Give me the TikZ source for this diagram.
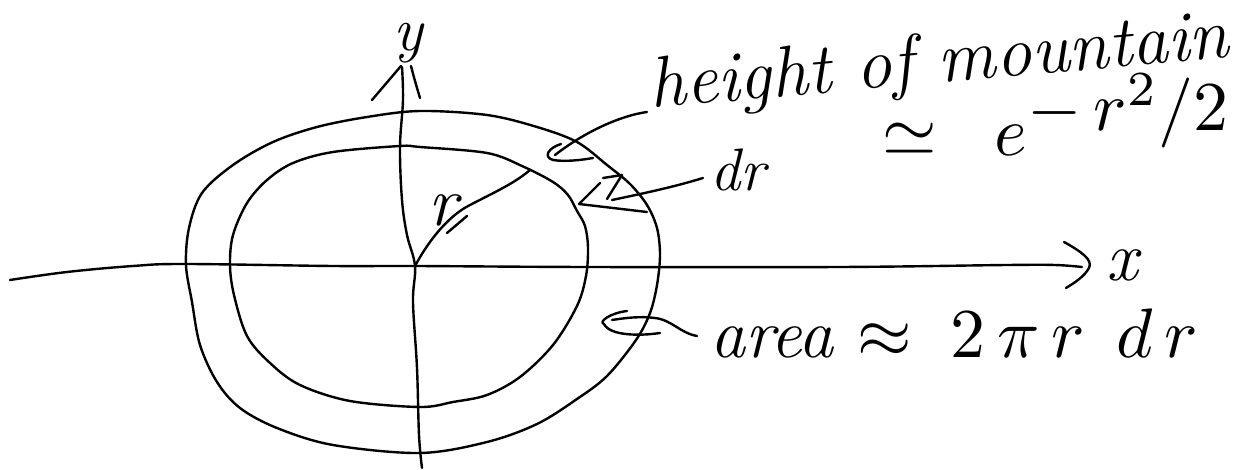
\documentclass[tikz,border=0pt]{standalone}
\usepackage{graphicx}
\newcommand{\handmath}[1]{\scalebox{7}{\fontsize{10}{12}\selectfont$#1$}}
\begin{document}
\begin{tikzpicture}[x=1pt,y=-1pt,
  ink/.style={line width=2.4pt, line cap=round, line join=round, black},
  lbl/.style={inner sep=0pt, anchor=base west, font=\fontsize{70}{80}\selectfont\itshape},
  biglbl/.style={inner sep=0pt, anchor=base west, font=\fontsize{72}{82}\selectfont\itshape},
  ylbl/.style={inner sep=0pt, anchor=base west, font=\fontsize{62}{70}\selectfont\itshape},
  smalllbl/.style={inner sep=0pt, anchor=base west, font=\fontsize{60}{68}\selectfont\itshape}]
\useasboundingbox (0,0) rectangle (1251,470);

% key coordinates
\coordinate (O) at (415,266);
\coordinate (xend) at (1082,267);
\coordinate (ytop) at (402,67);
\coordinate (ybot) at (422,468);
\coordinate (xstart) at (10,280);
\coordinate (rend) at (530,170);

% outer ring
\draw[ink] plot[smooth cycle, tension=0.55] coordinates {
 (420,111) (487,115) (537,127) (577,142) (607,165) (630,184) (647,205)
 (657,228) (660,255) (657,285) (650,313) (636,340) (607,376) (577,399)
 (537,424) (487,442) (420,453) (333,445) (277,428) (240,408) (217,382)
 (200,345) (192,302) (186,265) (189,228) (202,193) (233,165) (273,142)
 (317,127) (367,117)};

% inner ring
\draw[ink] plot[smooth cycle, tension=0.55] coordinates {
 (420,147) (487,153) (522,166) (553,182) (568,195) (577,211) (585,226)
 (588,248) (586,276) (577,306) (553,345) (520,377) (487,395) (453,402)
 (420,407) (350,401) (300,385) (270,363) (247,336) (234,295) (230,265)
 (233,235) (247,203) (267,180) (293,163) (333,152) (400,146)};

% x axis
\draw[ink] plot[smooth, tension=0.6] coordinates {
 (xstart) (67,272) (133,266) (185,264) (333,266) (O) (587,267) (840,267)
 (1007,265) (1055,265) (xend)};
\draw[ink] (1064,242) .. controls (1082,252) and (1093,260) .. (1089,268)
           .. controls (1084,277) and (1074,283) .. (1066,288);
\node[lbl] (xl) at (1106,281) {x};

% y axis
\draw[ink] plot[smooth, tension=0.6] coordinates {
 (ytop) (403,100) (400,147) (402,200) (407,235) (O) (413,302) (417,368)
 (419,435) (ybot)};
\draw[ink] (372,100) -- (401,66);
\draw[ink] (411,66) .. controls (414,78) and (417,88) .. (420,98);
\node[ylbl] (yl) at (393,51) {y};

% radius
\draw[ink] (O) .. controls (430,238) and (450,215) .. (470,205)
           .. controls (495,192) and (515,183) .. (rend);
\draw[ink] (447,233) -- (467,216);
\node[lbl] (rl) at (428,226) {r};

% height arrow
\coordinate (hpt) at (555,155);
\draw[ink] (647,112) .. controls (625,115) and (590,128) .. (hpt);
\draw[ink] (561,144) .. controls (548,148) and (543,157) .. (553,160)
           .. controls (565,162) and (582,160) .. (593,158);
\node[biglbl, rotate=5] (hl) at (651,108) {height of mountain};
\node[lbl] (el) at (882,156)
  {\handmath{\simeq\;\; e^{\textstyle -\,r^{2}/2}}};

% dr arrow
\coordinate (dpt) at (579,204);
\draw[ink] (703,178) .. controls (680,185) and (660,190) .. (612,200);
\draw[ink] (600,183) -- (dpt) -- (647,212);
\draw[ink] (603,178) -- (622,175) -- (607,199);
\node[smalllbl] (dl) at (710,191) {dr};

% area arrow
\coordinate (apt) at (604,324);
\draw[ink] (697,336) .. controls (680,333) and (672,320) .. (655,318)
           .. controls (640,316) and (625,318) .. (612,320);
\draw[ink] (627,311) .. controls (610,313) and (598,322) .. (apt)
           .. controls (610,336) and (640,336) .. (660,333);
\node[lbl] (al) at (710,358)
  {area\hspace{24pt}\handmath{\approx\; 2\,\pi\, r\;\, d\,r}};
\end{tikzpicture}
\end{document}
